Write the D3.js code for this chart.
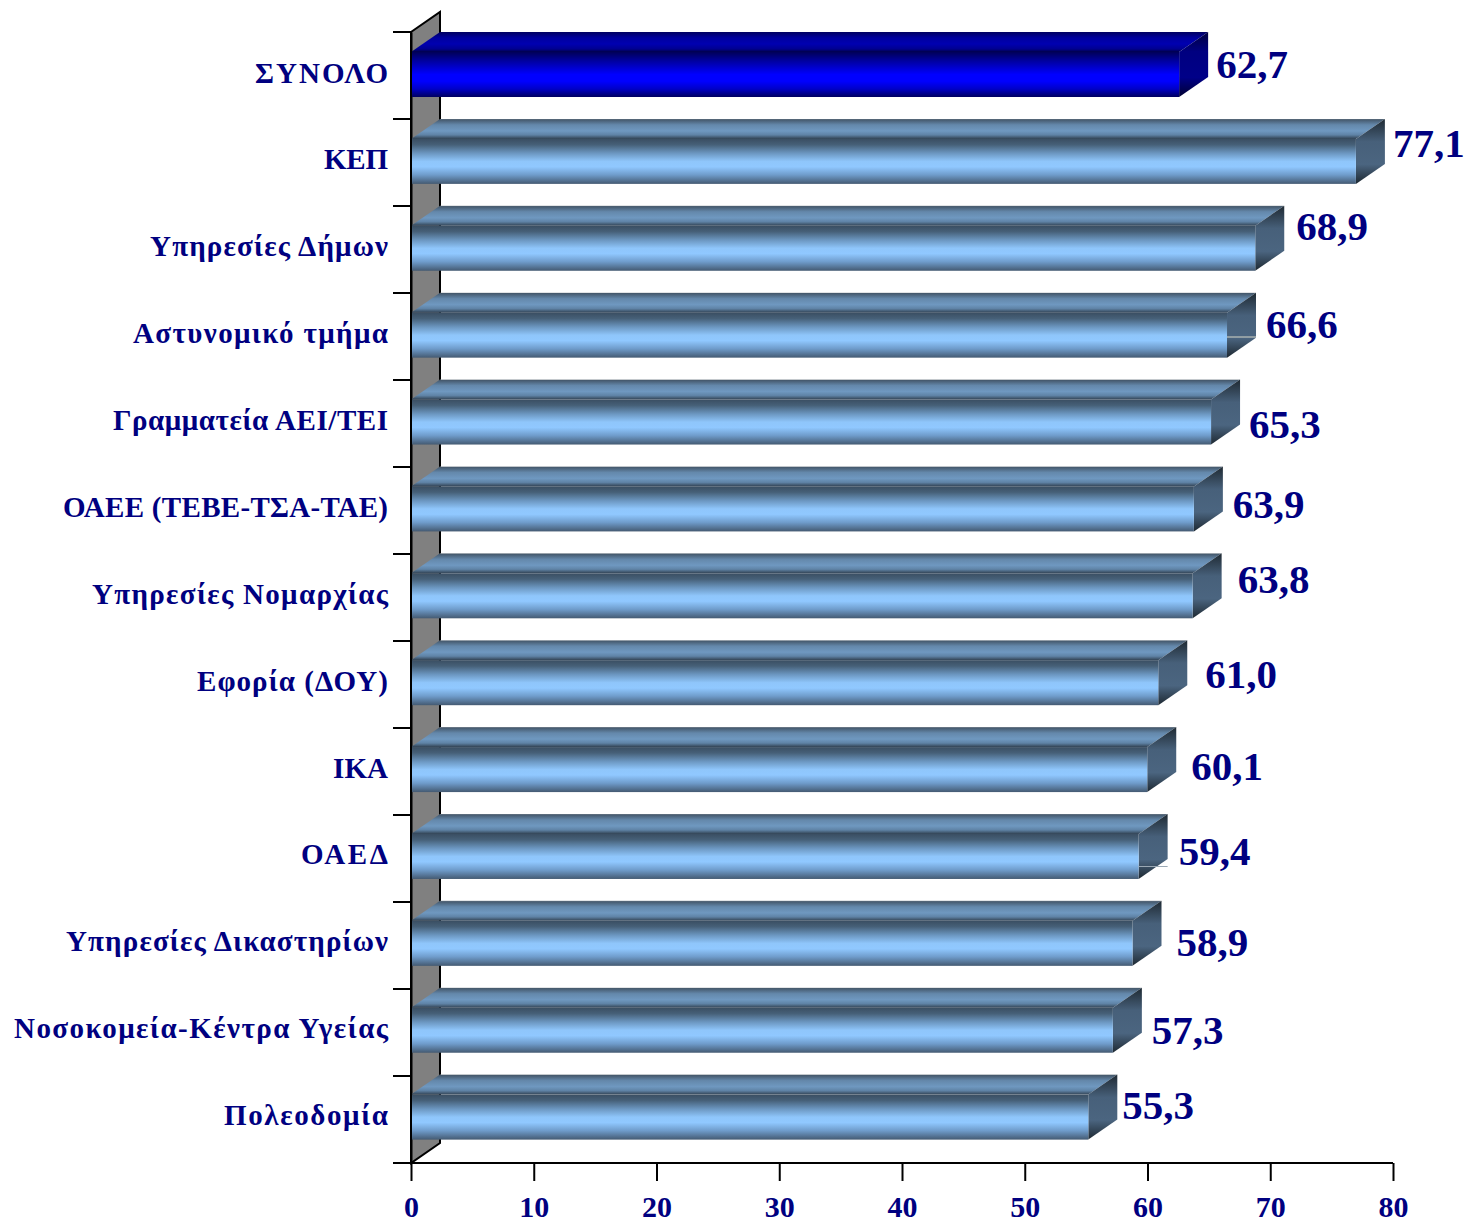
<!DOCTYPE html>
<html><head><meta charset="utf-8">
<script src="https://cdnjs.cloudflare.com/ajax/libs/d3/7.8.5/d3.min.js"></script>
<style>html,body{margin:0;padding:0;background:#fff}svg{display:block}
text{font-family:"Liberation Serif",serif;font-weight:bold;fill:#000080}</style></head><body>
<script>
const categories=["ΣΥΝΟΛΟ","ΚΕΠ","Υπηρεσίες Δήμων","Αστυνομικό τμήμα","Γραμματεία ΑΕΙ/ΤΕΙ","ΟΑΕΕ (ΤΕΒΕ-ΤΣΑ-ΤΑΕ)","Υπηρεσίες Νομαρχίας","Εφορία (ΔΟΥ)","ΙΚΑ","ΟΑΕΔ","Υπηρεσίες Δικαστηρίων","Νοσοκομεία-Κέντρα Υγείας","Πολεοδομία"];
const values=[62.7,77.1,68.9,66.6,65.3,63.9,63.8,61.0,60.1,59.4,58.9,57.3,55.3];
const xTicks=[0,10,20,30,40,50,60,70,80];
const labelWidths=[133,64,238,255,275,325,296,191,55,87,322,374,164];
const labelDx=[8,8,12,10,9,10,16,18,15,11,15,10,5];
const labelDy=[-10,-17,-21,-10,3,-4,-16,-8,-3,-4,0,1,-11];
const leaderRows=[3,9], leaderOffsets=[44,51.5], leaderColors=["#d8d8c8","#9aa8b4"];
const W=1468,H=1223,dx=29,dy=-20,barH=45,gap=20,endInset=1.5;
const svg=d3.select("body").append("svg").attr("width",W).attr("height",H);
const x=d3.scaleLinear().domain([0,80]).range([411,1393]);
const y=d3.scaleBand().domain(categories).range([32,1163]);
const yBar=d3.scaleBand().domain(categories).range([32,1161.5]);
const defs=svg.append("defs");
function grad(id,stops){const g=defs.append("linearGradient").attr("id",id).attr("x1",0).attr("x2",0).attr("y1",0).attr("y2",1);
 stops.forEach(([o,c])=>g.append("stop").attr("offset",o).attr("stop-color",c));}
grad("fB",[[0,"#3a4e62"],[.13,"#466078"],[.32,"#6c97c1"],[.5,"#8fc6fb"],[.62,"#90c8ff"],[.8,"#6f9ccb"],[1,"#445a72"]]);
grad("tB",[[0,"#8a939c"],[.04,"#45596d"],[.3,"#6488ab"],[.6,"#6f98c0"],[.8,"#5f83a6"],[.97,"#384b5e"],[1,"#34465a"]]);
grad("sB",[[0,"#1f2a33"],[.35,"#47607a"],[.7,"#4b6580"],[1,"#1d2831"]]);
grad("fT",[[0,"#000058"],[.2,"#0000a0"],[.5,"#0000ff"],[.65,"#0000ff"],[.82,"#0000c8"],[1,"#000060"]]);
grad("tT",[[0,"#000060"],[.3,"#0000a0"],[.6,"#0000b0"],[.85,"#000090"],[1,"#000048"]]);
grad("sT",[[0,"#000040"],[.3,"#000080"],[.7,"#000088"],[1,"#000030"]]);
const poly=a=>a.map(p=>p.join(",")).join(" ");
const x0=x(0),yT=y.range()[0],yB=y.range()[1];
const right=v=>x(v)-endInset;
svg.append("polygon").attr("points",poly([[x0,yT],[x0+dx,yT+dy],[x0+dx,yB+dy],[x0,yB]])).attr("fill","#808080").attr("stroke","#000").attr("stroke-width",2);
const ax=svg.append("g").attr("transform",`translate(${x0},0)`).call(d3.axisLeft(y).tickValues([]).tickSize(0));
ax.select("path").attr("stroke","#000").attr("stroke-width",2);
svg.selectAll(".yt").data(categories.concat(["_end"])).enter().append("line").attr("class","yt")
 .attr("x1",x0-18).attr("x2",x0).attr("y1",(d,i)=>i<categories.length?y(d):yB).attr("y2",(d,i)=>i<categories.length?y(d):yB)
 .attr("stroke","#000").attr("stroke-width",2);
const xAxis=d3.axisBottom(x).tickValues(xTicks).tickSize(18).tickPadding(15).tickFormat(d3.format("d"));
const bx=svg.append("g").attr("transform",`translate(0,${yB})`).call(xAxis);
bx.selectAll("path,line").attr("stroke","#000").attr("stroke-width",2);
bx.select("path").attr("d",`M${x0-18},0H${x(80)}`);
bx.selectAll("text").style("font-size","30px").style("font-family",'"Liberation Serif",serif').style("font-weight","bold").attr("fill","#000080");
const rows=categories.map((c,i)=>({c,v:values[i],i,k:i==0?"T":"B"}));
const g=svg.selectAll(".bar").data(rows).enter().append("g").attr("class","bar");
g.append("polygon").attr("fill",d=>`url(#t${d.k})`).attr("points",d=>{const t=yBar(d.c)+gap,r=right(d.v);return poly([[x0,t],[x0+dx,t+dy],[r+dx,t+dy],[r,t]])});
g.append("polygon").attr("fill",d=>`url(#s${d.k})`).attr("points",d=>{const t=yBar(d.c)+gap,r=right(d.v);return poly([[r,t],[r+dx,t+dy],[r+dx,t+dy+barH],[r,t+barH]])});
g.append("rect").attr("fill",d=>`url(#f${d.k})`).attr("x",x0).attr("y",d=>yBar(d.c)+gap).attr("width",d=>right(d.v)-x0).attr("height",barH);
g.filter(d=>leaderRows.includes(d.i)).append("line")
 .attr("x1",d=>right(d.v)).attr("x2",d=>right(d.v)+dx)
 .attr("y1",d=>y(d.c)+leaderOffsets[leaderRows.indexOf(d.i)]).attr("y2",d=>y(d.c)+leaderOffsets[leaderRows.indexOf(d.i)])
 .attr("stroke",d=>leaderColors[leaderRows.indexOf(d.i)]).attr("stroke-width",1);
svg.append("line").attr("x1",x0).attr("x2",x0).attr("y1",yT).attr("y2",yB).attr("stroke","#000").attr("stroke-width",2);
svg.selectAll(".cat").data(categories).enter().append("text").attr("class","cat")
 .attr("x",388).attr("y",d=>yBar(d)+gap+barH/2+8).attr("text-anchor","end").style("font-size","29px")
 .attr("textLength",(d,i)=>labelWidths[i]).attr("lengthAdjust","spacing").text(d=>d);
g.append("text").attr("x",d=>right(d.v)+dx+labelDx[d.i]).attr("y",d=>yBar(d.c)+gap+barH/2+labelDy[d.i]+13)
 .style("font-size","41px").text(d=>d3.format(".1f")(d.v).replace(".",","));
</script></body></html>
